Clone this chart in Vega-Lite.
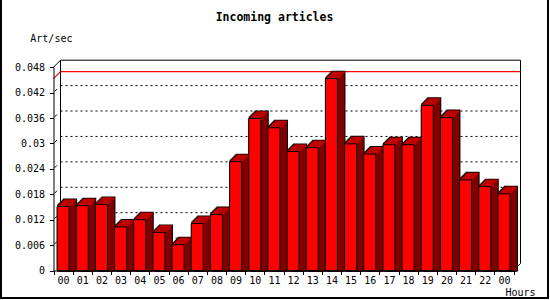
{
  "$schema": "https://vega.github.io/schema/vega-lite/v6.json",
  "width": 547,
  "height": 300,
  "autosize": {"type": "none"},
  "padding": {"left": 1, "top": -2, "right": 2, "bottom": 2},
  "background": "white",
  "config": {
    "view": {"stroke": "black", "strokeWidth": 2, "fill": "white"},
    "font": "DejaVu Sans Mono",
    "axis": {"labelOverlap": false, "labelSeparation": 0},
    "axisY": {"labelOverlap": false, "values": [0, 0.006, 0.012, 0.018, 0.024, 0.03, 0.036, 0.042, 0.048]}
  },
  "title": {
    "text": "Incoming articles",
    "font": "DejaVu Sans Mono",
    "fontSize": 11.5,
    "fontWeight": "bold",
    "color": "black",
    "anchor": "middle",
    "frame": "group",
    "baseline": "alphabetic",
    "offset": -34.6
  },
  "datasets": {
    "bars": [
      {"h": "00", "v": 0.0151},
      {"h": "01", "v": 0.0153},
      {"h": "02", "v": 0.0156},
      {"h": "03", "v": 0.0103},
      {"h": "04", "v": 0.0120},
      {"h": "05", "v": 0.0090},
      {"h": "06", "v": 0.0061},
      {"h": "07", "v": 0.0111},
      {"h": "08", "v": 0.0132},
      {"h": "09", "v": 0.0257},
      {"h": "10", "v": 0.0359},
      {"h": "11", "v": 0.0337},
      {"h": "12", "v": 0.0281},
      {"h": "13", "v": 0.0290},
      {"h": "14", "v": 0.0453},
      {"h": "15", "v": 0.0299},
      {"h": "16", "v": 0.0275},
      {"h": "17", "v": 0.0297},
      {"h": "18", "v": 0.0297},
      {"h": "19", "v": 0.0390},
      {"h": "20", "v": 0.0361},
      {"h": "21", "v": 0.0214},
      {"h": "22", "v": 0.0198},
      {"h": "24", "v": 0.0181}
    ],
    "grid": [{"g": 0.006}, {"g": 0.012}, {"g": 0.018}, {"g": 0.024}, {"g": 0.03}, {"g": 0.036}, {"g": 0.042}],
    "one": [{"id": 1}]
  },
  "layer": [
    {
      "layer": [
        {
          "data": {"name": "grid"},
          "mark": {"type": "rule", "stroke": "black", "strokeWidth": 1, "strokeDash": [2, 3], "xOffset": 7, "x2Offset": 7, "yOffset": -7},
          "encoding": {
            "x": {"datum": 0, "type": "quantitative", "scale": {"domain": [0, 24], "range": [52.5, 512.5]}, "axis": null},
            "x2": {"datum": 24},
            "y": {"field": "g", "type": "quantitative"}
          }
        },
        {
          "data": {"name": "grid"},
          "mark": {"type": "rule", "stroke": "black", "strokeWidth": 1, "xOffset": 1, "x2Offset": 3.5, "yOffset": -1, "y2Offset": -3.5},
          "encoding": {
            "x": {"datum": 0, "type": "quantitative", "axis": null},
            "x2": {"datum": 0},
            "y": {"field": "g", "type": "quantitative"},
            "y2": {"field": "g"}
          }
        },
        {
          "data": {"name": "bars"},
          "transform": [{"aggregate": [{"op": "max", "field": "v", "as": "m"}]}],
          "mark": {"type": "rule", "stroke": "#ff0000", "strokeWidth": 1.2, "xOffset": 7, "x2Offset": 7, "yOffset": -7},
          "encoding": {
            "x": {"datum": 0, "type": "quantitative", "axis": null},
            "x2": {"datum": 24},
            "y": {"field": "m", "type": "quantitative"}
          }
        },
        {
          "data": {"name": "bars"},
          "transform": [{"aggregate": [{"op": "max", "field": "v", "as": "m"}]}],
          "mark": {"type": "rule", "stroke": "#ff0000", "strokeWidth": 1.2, "x2Offset": 7, "y2Offset": -7},
          "encoding": {
            "x": {"datum": 0, "type": "quantitative", "axis": null},
            "x2": {"datum": 0},
            "y": {"field": "m", "type": "quantitative"},
            "y2": {"field": "m"}
          }
        },
        {
          "data": {"name": "one"},
          "mark": {"type": "rule", "stroke": "black", "strokeWidth": 1, "xOffset": 7, "x2Offset": 7, "yOffset": -7},
          "encoding": {
            "x": {"datum": 0, "type": "quantitative", "axis": null},
            "x2": {"datum": 24},
            "y": {"datum": 0.048}
          }
        },
        {
          "data": {"name": "one"},
          "mark": {"type": "rule", "stroke": "black", "strokeWidth": 1, "xOffset": 7, "yOffset": -7, "y2Offset": -7},
          "encoding": {
            "x": {"datum": 0, "type": "quantitative", "axis": null},
            "y": {"datum": 0},
            "y2": {"datum": 0.048}
          }
        },
        {
          "data": {"name": "one"},
          "mark": {"type": "rule", "stroke": "black", "strokeWidth": 1, "xOffset": 7, "yOffset": -7, "y2Offset": -7},
          "encoding": {
            "x": {"datum": 24, "type": "quantitative", "axis": null},
            "y": {"datum": 0},
            "y2": {"datum": 0.048}
          }
        },
        {
          "data": {"name": "one"},
          "mark": {"type": "rule", "stroke": "black", "strokeWidth": 1, "x2Offset": 7, "y2Offset": -7},
          "encoding": {
            "x": {"datum": 0, "type": "quantitative", "axis": null},
            "x2": {"datum": 0},
            "y": {"datum": 0.048},
            "y2": {"datum": 0.048}
          }
        },
        {
          "data": {"name": "one"},
          "mark": {"type": "rule", "stroke": "black", "strokeWidth": 1, "x2Offset": 7, "y2Offset": -7},
          "encoding": {
            "x": {"datum": 24, "type": "quantitative", "axis": null},
            "x2": {"datum": 24},
            "y": {"datum": 0},
            "y2": {"datum": 0}
          }
        }
      ]
    },
    {
      "data": {"name": "bars"},
      "encoding": {
        "x": {
          "field": "h",
          "type": "nominal",
          "scale": {"type": "band", "range": [52.5, 512.5], "paddingInner": 0, "paddingOuter": 0},
          "axis": {
            "orient": "bottom",
            "offset": -27.5,
            "tickBand": "extent",
            "tickSize": 4,
            "tickColor": "black",
            "tickWidth": 1,
            "domainColor": "black",
            "domainWidth": 1,
            "grid": false,
            "labelAngle": 0,
            "labelOverlap": false,
            "labelFont": "DejaVu Sans Mono",
            "labelFontSize": 10,
            "labelColor": "black",
            "labelBaseline": "alphabetic",
            "labelPadding": 8.8,
            "labelExpr": "datum.value == '24' ? '00' : datum.value",
            "title": "Hours",
            "titleFont": "DejaVu Sans Mono",
            "titleFontSize": 10,
            "titleFontWeight": "normal",
            "titleColor": "black",
            "titleAlign": "left",
            "titleBaseline": "alphabetic",
            "titleX": 504,
            "titleY": 25.2,
            "zindex": 1
          }
        },
        "y": {
          "field": "v",
          "type": "quantitative",
          "stack": null,
          "scale": {"domain": [0, 0.048], "range": [272.5, 69.2], "nice": false, "zero": true},
          "axis": {
            "orient": "left",
            "offset": -52.5,
            "values": [0, 0.006, 0.012, 0.018, 0.024, 0.03, 0.036, 0.042, 0.048],
            "tickCount": 9,
            "format": "~g",
            "tickSize": 4,
            "tickColor": "black",
            "tickWidth": 1,
            "domainColor": "black",
            "domainWidth": 1,
            "grid": false,
            "labelOverlap": false,
            "labelSeparation": 0,
            "labelFont": "DejaVu Sans Mono",
            "labelFontSize": 10,
            "labelColor": "black",
            "labelPadding": 5,
            "labelBaseline": "middle",
            "title": "Art/sec",
            "titleFont": "DejaVu Sans Mono",
            "titleFontSize": 10,
            "titleFontWeight": "normal",
            "titleColor": "black",
            "titleAngle": 0,
            "titleAlign": "left",
            "titleBaseline": "alphabetic",
            "titleX": -23.7,
            "titleY": 43.7,
            "zindex": 1
          }
        }
      },
      "layer": [
        {"mark": {"type": "bar", "fill": "#808080", "width": {"band": 0.63}, "xOffset": 7, "yOffset": -7}, "encoding": {"y": {"datum": 0}, "y2": {"datum": 0}}},
        {"mark": {"type": "bar", "fill": "black", "stroke": "black", "strokeWidth": 2, "width": {"band": 0.63}, "xOffset": 1, "yOffset": -1, "y2Offset": -1}},
        {"mark": {"type": "bar", "fill": "black", "stroke": "black", "strokeWidth": 2, "width": {"band": 0.63}, "xOffset": 2, "yOffset": -2, "y2Offset": -2}},
        {"mark": {"type": "bar", "fill": "black", "stroke": "black", "strokeWidth": 2, "width": {"band": 0.63}, "xOffset": 3, "yOffset": -3, "y2Offset": -3}},
        {"mark": {"type": "bar", "fill": "black", "stroke": "black", "strokeWidth": 2, "width": {"band": 0.63}, "xOffset": 4, "yOffset": -4, "y2Offset": -4}},
        {"mark": {"type": "bar", "fill": "black", "stroke": "black", "strokeWidth": 2, "width": {"band": 0.63}, "xOffset": 5, "yOffset": -5, "y2Offset": -5}},
        {"mark": {"type": "bar", "fill": "black", "stroke": "black", "strokeWidth": 2, "width": {"band": 0.63}, "xOffset": 6, "yOffset": -6, "y2Offset": -6}},
        {"mark": {"type": "bar", "fill": "black", "stroke": "black", "strokeWidth": 2, "width": {"band": 0.63}, "xOffset": 7, "yOffset": -7, "y2Offset": -7}},
        {"mark": {"type": "bar", "fill": "#800000", "width": {"band": 0.63}, "xOffset": 1, "yOffset": -1, "y2Offset": -1}},
        {"mark": {"type": "bar", "fill": "#800000", "width": {"band": 0.63}, "xOffset": 2, "yOffset": -2, "y2Offset": -2}},
        {"mark": {"type": "bar", "fill": "#800000", "width": {"band": 0.63}, "xOffset": 3, "yOffset": -3, "y2Offset": -3}},
        {"mark": {"type": "bar", "fill": "#800000", "width": {"band": 0.63}, "xOffset": 4, "yOffset": -4, "y2Offset": -4}},
        {"mark": {"type": "bar", "fill": "#800000", "width": {"band": 0.63}, "xOffset": 5, "yOffset": -5, "y2Offset": -5}},
        {"mark": {"type": "bar", "fill": "#800000", "width": {"band": 0.63}, "xOffset": 6, "yOffset": -6, "y2Offset": -6}},
        {"mark": {"type": "bar", "fill": "#800000", "width": {"band": 0.63}, "xOffset": 7, "yOffset": -7, "y2Offset": -7}},
        {"mark": {"type": "bar", "fill": "#c00000", "width": {"band": 0.63}, "xOffset": 7, "yOffset": -7, "y2Offset": -5.7}, "encoding": {"y2": {"field": "v"}}},
        {"mark": {"type": "bar", "fill": "#c00000", "width": {"band": 0.63}, "xOffset": 6, "yOffset": -6, "y2Offset": -4.7}, "encoding": {"y2": {"field": "v"}}},
        {"mark": {"type": "bar", "fill": "#c00000", "width": {"band": 0.63}, "xOffset": 5, "yOffset": -5, "y2Offset": -3.7}, "encoding": {"y2": {"field": "v"}}},
        {"mark": {"type": "bar", "fill": "#c00000", "width": {"band": 0.63}, "xOffset": 4, "yOffset": -4, "y2Offset": -2.7}, "encoding": {"y2": {"field": "v"}}},
        {"mark": {"type": "bar", "fill": "#c00000", "width": {"band": 0.63}, "xOffset": 3, "yOffset": -3, "y2Offset": -1.7}, "encoding": {"y2": {"field": "v"}}},
        {"mark": {"type": "bar", "fill": "#c00000", "width": {"band": 0.63}, "xOffset": 2, "yOffset": -2, "y2Offset": -0.7}, "encoding": {"y2": {"field": "v"}}},
        {"mark": {"type": "bar", "fill": "#c00000", "width": {"band": 0.63}, "xOffset": 1, "yOffset": -1, "y2Offset": 0.3}, "encoding": {"y2": {"field": "v"}}},
        {"mark": {"type": "bar", "fill": "#ff0000", "stroke": "black", "strokeWidth": 1, "width": {"band": 0.63}}}
      ]
    }
  ],
  "resolve": {"scale": {"x": "independent"}, "axis": {"x": "independent"}}
}
